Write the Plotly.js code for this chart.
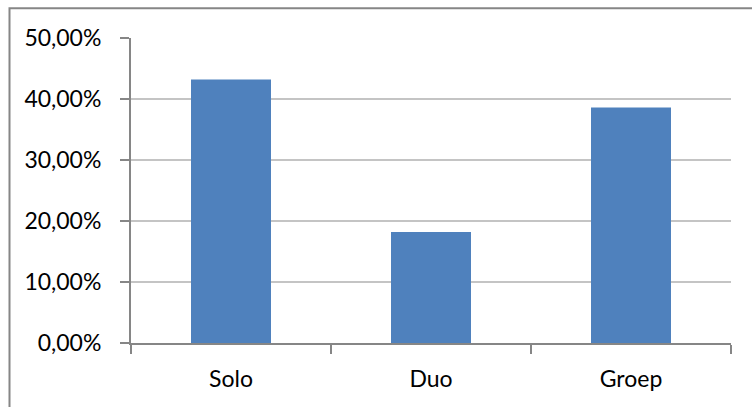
<!DOCTYPE html>
<html>
<head>
<meta charset="utf-8">
<script src="https://cdn.plot.ly/plotly-3.0.1.min.js"></script>
<style>
  html, body { margin: 0; padding: 0; background: #ffffff; }
  #chart { width: 752px; height: 407px; }
</style>
</head>
<body>
<div id="chart"></div>
<script>
// Share of performances per line-up type
const categories = ["Solo", "Duo", "Groep"];
const shares = [0.432, 0.182, 0.386];
const yTicks = [0, 0.1, 0.2, 0.3, 0.4, 0.5];

const axisGray = "#868686";
const gridGray = "#c4c4c4";
const barBlue = "#4f81bd";
const font = { family: "Lato, 'Open Sans', sans-serif", size: 23, color: "#000000" };

const trace = {
  type: "bar",
  x: categories,
  y: shares,
  width: 0.4,
  marker: { color: barBlue, line: { width: 0 } },
  hoverinfo: "skip"
};

const layout = {
  width: 752,
  height: 407,
  margin: { l: 131, r: 21, t: 38, b: 64, pad: 0 },
  paper_bgcolor: "#ffffff",
  plot_bgcolor: "#ffffff",
  separators: ",.",
  font: font,
  showlegend: false,
  bargap: 0.6,
  xaxis: {
    type: "category",
    range: [-0.5, 2.5],
    showgrid: false,
    zeroline: false,
    showline: true,
    linecolor: axisGray,
    linewidth: 2,
    ticks: "outside",
    tickson: "boundaries",
    ticklen: 9,
    tickwidth: 2,
    tickcolor: axisGray,
    ticklabelstandoff: 14,
    tickfont: font,
    fixedrange: true
  },
  yaxis: {
    range: [0, 0.5],
    tickvals: yTicks,
    tickformat: ".2%",
    showgrid: true,
    gridcolor: gridGray,
    gridwidth: 2,
    zeroline: false,
    showline: true,
    linecolor: axisGray,
    linewidth: 2,
    ticks: "outside",
    ticklen: 9,
    tickwidth: 2,
    tickcolor: axisGray,
    ticklabelstandoff: 14,
    tickfont: font,
    fixedrange: true
  },
  shapes: [{
    // chart frame, open past the right and bottom edges
    type: "rect",
    xref: "paper", yref: "paper",
    x0: -0.2025, x1: 1.1,
    y0: -0.3, y1: 1.0975,
    line: { color: axisGray, width: 2 },
    fillcolor: "rgba(0,0,0,0)",
    layer: "above"
  }]
};

Plotly.newPlot("chart", [trace], layout, { displayModeBar: false, staticPlot: true });
</script>
</body>
</html>
